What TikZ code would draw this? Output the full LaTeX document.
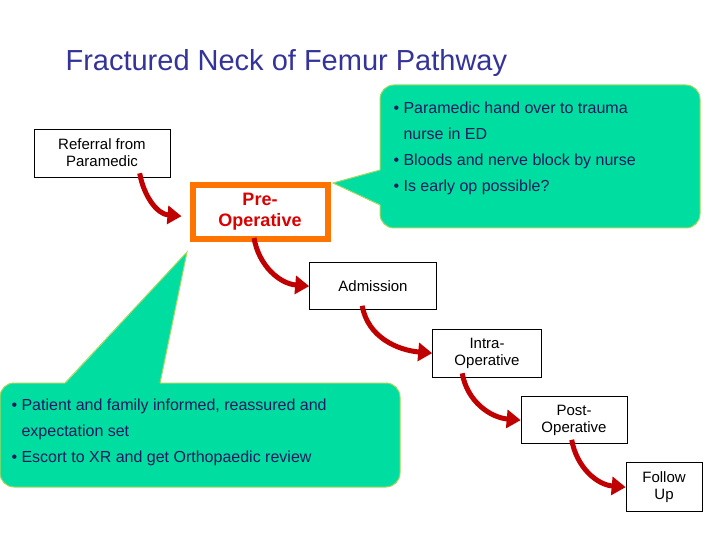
\documentclass[tikz,border=0pt]{standalone}
\usepackage{fontspec}
\setmainfont{Liberation Sans}
\usetikzlibrary{arrows.meta}
\definecolor{callg}{HTML}{00DDA0}
\definecolor{callb}{HTML}{A8D860}
\definecolor{navy}{HTML}{1A1A60}
\definecolor{titleb}{HTML}{333399}
\definecolor{arr}{HTML}{C00000}
\begin{document}
\begin{tikzpicture}[x=1pt,y=-1pt,
  box/.style={draw=black,line width=0.6pt,fill=white,align=center,font=\fontsize{15}{17}\selectfont,inner sep=0pt},
  flow/.style={line width=5pt,draw=arr,-{Triangle[length=14pt,width=18pt]},shorten >=-2pt},
  callout/.style={fill=callg,draw=callb,line width=1pt,rounded corners=14pt},
  ctext/.style={text=navy,font=\fontsize{16}{26}\selectfont,align=left,anchor=north west}]
\useasboundingbox (0,0) rectangle (720,540);
\node[anchor=west,text=titleb,font=\fontsize{29}{32}\selectfont] (title) at (62,63) {Fractured Neck of Femur Pathway};
% callouts
\draw[callout] (380,85) rectangle (700,228);
\fill[callg] (381,170) -- (333,183) -- (381,205) -- cycle;
\draw[callb,line width=1pt] (380,170) -- (333,183) -- (380,205);
\node[ctext] (c1) at (390,98) {• Paramedic hand over to trauma\\\hphantom{• }nurse in ED\\• Bloods and nerve block by nurse\\• Is early op possible?};
\draw[callout] (0,383) rectangle (400,487);
\fill[callg] (65,384) -- (187,252) -- (160,384) -- cycle;
\draw[callb,line width=1pt] (65,383) -- (187,252) -- (160,383);
\node[ctext] (c2) at (8,395) {• Patient and family informed, reassured and\\\hphantom{• }expectation set\\• Escort to XR and get Orthopaedic review};
% boxes
\node[box,minimum width=136pt,minimum height=48pt] (ref) at (102,153) {Referral from\\Paramedic};
\node[draw=orange!90!red,line width=6pt,fill=white,minimum width=135pt,minimum height=54pt,align=center,text=red!85!black,font=\bfseries\fontsize{18}{21}\selectfont,inner sep=0pt] (pre) at (260,212) {Pre-\\Operative};
\node[box,minimum width=127pt,minimum height=47pt] (adm) at (373,286) {Admission};
\node[box,minimum width=109pt,minimum height=48pt] (intra) at (487,353) {Intra-\\Operative};
\node[box,minimum width=106pt,minimum height=47pt] (post) at (574,420) {Post-\\Operative};
\node[box,minimum width=76pt,minimum height=49pt] (fu) at (664,487) {Follow\\Up};
% arrows
\draw[flow] ([xshift=106pt,yshift=4pt]ref.south west) to[out=-80,in=175] ([xshift=-10pt,yshift=-4pt]pre.west);
\draw[flow] ([xshift=-6pt,yshift=4pt]pre.south) to[out=-80,in=175] ([xshift=-2pt]adm.west);
\draw[flow] ([xshift=53pt,yshift=4pt]adm.south west) to[out=-80,in=175] ([xshift=-2pt]intra.west);
\draw[flow] ([xshift=30pt,yshift=4pt]intra.south west) to[out=-80,in=175] ([xshift=-2pt]post.west);
\draw[flow] ([xshift=51pt,yshift=4pt]post.south west) to[out=-80,in=175] ([xshift=-2pt]fu.west);
\end{tikzpicture}
\end{document}
